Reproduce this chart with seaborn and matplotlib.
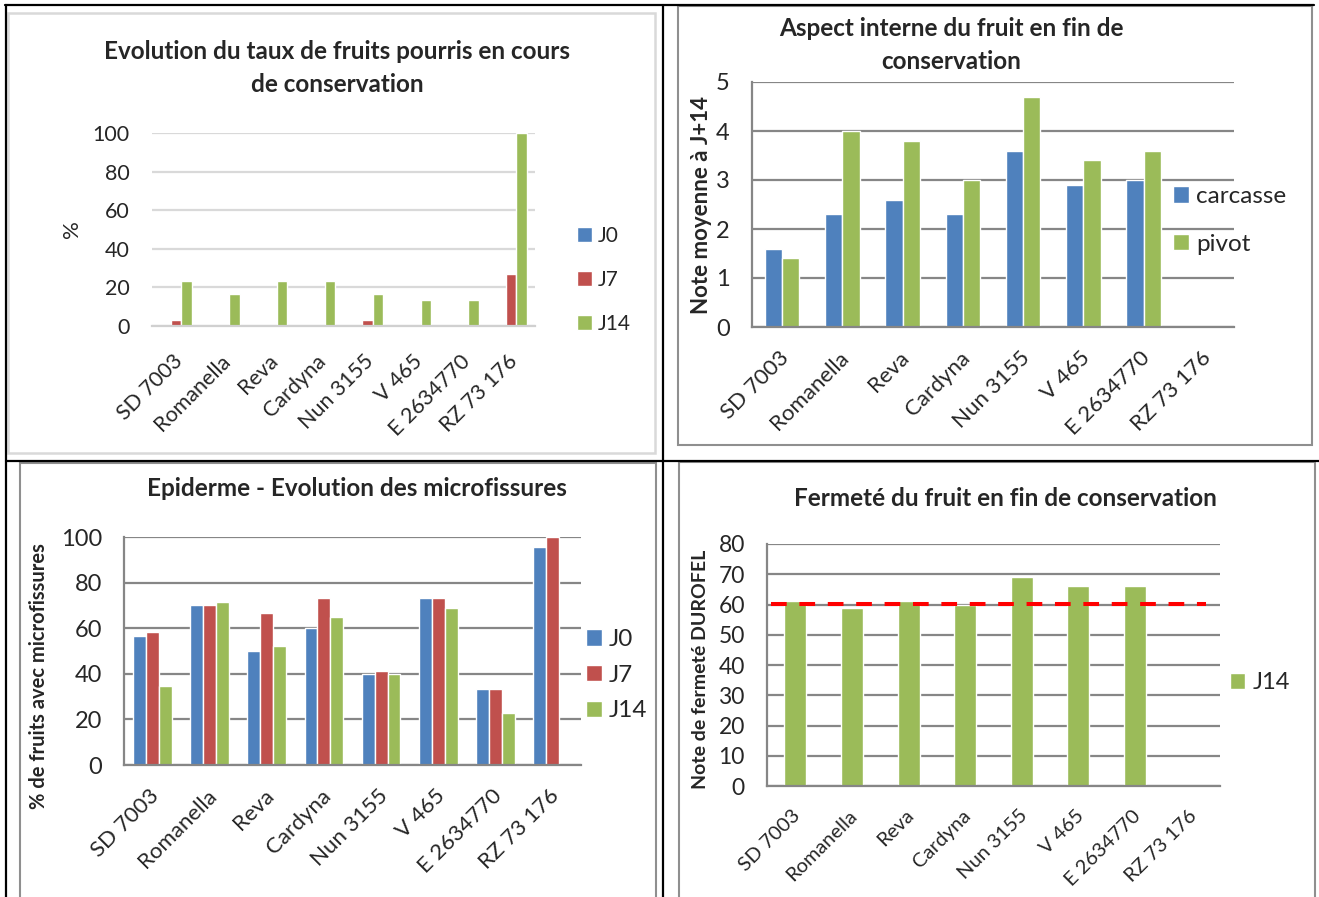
import numpy as np
import pandas as pd
import matplotlib
matplotlib.use("Agg")
import matplotlib.pyplot as plt
from matplotlib.patches import Rectangle
from matplotlib.lines import Line2D
from matplotlib.transforms import ScaledTranslation
import seaborn as sns

sns.set_style("white")
plt.rcParams["font.family"] = ["Lato", "DejaVu Sans"]

# ---------------- data ----------------
varietes = ["SD 7003", "Romanella", "Reva", "Cardyna", "Nun 3155", "V 465", "E 2634770", "RZ 73 176"]

pourris_J0 = [0, 0, 0, 0, 0, 0, 0, 0]
pourris_J7 = [3.3, 0, 0, 0, 3.3, 0, 0, 26.7]
pourris_J14 = [23.3, 16.7, 23.3, 23.3, 16.7, 13.3, 13.3, 100]

aspect_carcasse = [1.6, 2.3, 2.6, 2.3, 3.6, 2.9, 3.0, np.nan]
aspect_pivot = [1.4, 4.0, 3.8, 3.0, 4.7, 3.4, 3.6, np.nan]

micro_J0 = [56.7, 70, 50, 60, 40, 73.3, 33.3, 95.7]
micro_J7 = [58.3, 70, 66.7, 73.3, 41.4, 73.3, 33.3, 100]
micro_J14 = [34.8, 71.7, 52, 65, 40, 68.9, 22.7, np.nan]

fermete_J14 = [61, 59, 61, 60, 69, 66, 66, np.nan]
seuil_fermete = 60.3

titre_pourris = "Evolution du taux de fruits pourris en cours\nde conservation"
titre_aspect = "Aspect interne du fruit en fin de\nconservation"
titre_micro = "Epiderme - Evolution des microfissures"
titre_fermete = "Fermeté du fruit en fin de conservation"

BLUE, RED, GREEN = "#4F81BD", "#C0504D", "#9BBB59"


def longform(series):
    rows = []
    for name, vals in series.items():
        for v, val in zip(varietes, vals):
            rows.append({"variete": v, "serie": name, "valeur": val})
    return pd.DataFrame(rows).dropna()


W, H = 1319, 897
fig = plt.figure(figsize=(W / 100, H / 100), dpi=100)
fig.patch.set_facecolor("white")


def px_axes(l, t, r, b):
    return fig.add_axes([l / W, 1 - b / H, (r - l) / W, (b - t) / H])


def fx(x):
    return x / W


def fy(y):
    return 1 - y / H


def style_axes(ax, ymax, ystep, grid_col, tick_fs, xfs, spines=True, ypad=12, xpad=6, dx=0):
    ax.set_ylim(0, ymax)
    ax.set_yticks(np.arange(0, ymax + 0.001, ystep))
    ax.set_xlim(-0.5, len(varietes) - 0.5)
    ax.yaxis.grid(True, color=grid_col, lw=1.6)
    ax.xaxis.grid(False)
    ax.set_axisbelow(True)
    for s in ["top", "right"]:
        ax.spines[s].set_visible(False)
    ax.set_xlabel("")
    ax.set_facecolor("none")
    if spines:
        for s in ["left", "bottom"]:
            ax.spines[s].set_color("#868686")
            ax.spines[s].set_linewidth(1.6)
        ax.tick_params(axis="y", length=6, width=1.4, color="#868686", pad=ypad, labelsize=tick_fs)
        ax.set_xticks(np.arange(-0.5, len(varietes), 1.0), minor=True)
        ax.tick_params(axis="x", which="minor", length=6, width=1.4, color="#868686")
        ax.tick_params(axis="x", which="major", length=0, pad=xpad, labelsize=xfs)
    else:
        ax.spines["left"].set_visible(False)
        ax.spines["bottom"].set_color("#d0d0d0")
        ax.spines["bottom"].set_linewidth(1.6)
        ax.tick_params(axis="y", length=0, pad=ypad, labelsize=tick_fs)
        ax.tick_params(axis="x", which="major", length=0, pad=xpad, labelsize=xfs)
    ax.set_xticks(range(len(varietes)))
    ax.set_xticklabels(varietes, rotation=45, ha="right", rotation_mode="anchor")
    off = ScaledTranslation(dx / 72, 0, fig.dpi_scale_trans)
    for lab in ax.get_xticklabels():
        lab.set_transform(lab.get_transform() + off)


def place_legend(ax, x, y, fs, spacing, hsize):
    leg = ax.get_legend()
    handles = leg.legend_handles
    labels = [t.get_text() for t in leg.get_texts()]
    leg.remove()
    ax.legend(handles, labels, loc="upper left", bbox_to_anchor=(fx(x), fy(y)),
              bbox_transform=fig.transFigure, frameon=False, fontsize=fs,
              labelspacing=spacing, handlelength=hsize, handleheight=hsize,
              handletextpad=0.3, borderpad=0, borderaxespad=0)


# ---------------- frames and table lines ----------------
def frame(x0, y0, x1, y1, col, lw=1.5):
    fig.add_artist(Rectangle((fx(x0), fy(y1)), (x1 - x0) / W, (y1 - y0) / H,
                             transform=fig.transFigure, fill=False, ec=col, lw=lw))


frame(8, 13, 655, 453, "#d9d9d9", 1.8)
frame(678, 6, 1312, 445, "#8f8f8f", 1.5)
frame(20, 463, 656, 905, "#8f8f8f", 1.5)
frame(679, 462, 1315, 905, "#8f8f8f", 1.5)

for (x0, y0, x1, y1) in [(5, 5, 1314, 5), (6, 5, 6, 897), (663, 5, 663, 897), (6, 461, 1319, 461)]:
    fig.add_artist(Line2D([fx(x0), fx(x1)], [fy(y0), fy(y1)], transform=fig.transFigure,
                          color="black", lw=1.6))

# ---------------- chart 1: fruits pourris ----------------
ax1 = px_axes(152, 133, 535, 326)
df1 = longform({"J0": pourris_J0, "J7": pourris_J7, "J14": pourris_J14})
sns.barplot(data=df1, x="variete", y="valeur", hue="serie", order=varietes,
            hue_order=["J0", "J7", "J14"], palette=[BLUE, RED, GREEN], width=0.66,
            errorbar=None, saturation=1, ax=ax1)
style_axes(ax1, 100, 20, "#d9d9d9", 15.5, 15.5, spines=False, ypad=16, xpad=18, dx=-2.5)
ax1.set_ylabel("%", fontsize=16, labelpad=8)
place_legend(ax1, 577, 226, 15, 1.15, 0.7)
fig.text(fx(337), fy(68), titre_pourris, ha="center", va="center", fontsize=17.5,
         fontweight="bold", linespacing=1.5)

# ---------------- chart 2: aspect interne ----------------
ax2 = px_axes(752, 82, 1234, 327)
df2 = longform({"carcasse": aspect_carcasse, "pivot": aspect_pivot})
sns.barplot(data=df2, x="variete", y="valeur", hue="serie", order=varietes,
            hue_order=["carcasse", "pivot"], palette=[BLUE, GREEN], width=0.57,
            errorbar=None, saturation=1, ax=ax2)
style_axes(ax2, 5, 1, "#868686", 17, 16, spines=True, ypad=10, xpad=15, dx=-2.5)
ax2.set_ylabel("Note moyenne à J+14", fontsize=16, fontweight="bold", labelpad=3)
place_legend(ax2, 1173, 186, 17.5, 1.1, 0.65)
fig.text(fx(951), fy(45), titre_aspect, ha="center", va="center", fontsize=17.5,
         fontweight="bold", linespacing=1.5)

# ---------------- chart 3: microfissures ----------------
ax3 = px_axes(124, 537, 581, 765)
df3 = longform({"J0": micro_J0, "J7": micro_J7, "J14": micro_J14})
sns.barplot(data=df3, x="variete", y="valeur", hue="serie", order=varietes,
            hue_order=["J0", "J7", "J14"], palette=[BLUE, RED, GREEN], width=0.68,
            errorbar=None, saturation=1, ax=ax3)
style_axes(ax3, 100, 20, "#868686", 17, 16, spines=True, ypad=10, xpad=15, dx=-2.5)
ax3.set_ylabel("% de fruits avec microfissures", fontsize=14.5, fontweight="bold", labelpad=8)
ax3.yaxis.label.set_y(0.39)
place_legend(ax3, 586, 629, 17.5, 0.6, 0.65)
fig.text(fx(357), fy(488), titre_micro, ha="center", va="center", fontsize=17.5,
         fontweight="bold")

# ---------------- chart 4: fermeté ----------------
ax4 = px_axes(767, 544, 1220, 786)
df4 = longform({"J14": fermete_J14})
sns.barplot(data=df4, x="variete", y="valeur", hue="serie", order=varietes,
            hue_order=["J14"], palette=[GREEN], width=0.39,
            errorbar=None, saturation=1, ax=ax4)
style_axes(ax4, 80, 10, "#868686", 16.5, 14.5, spines=True, ypad=10, xpad=15, dx=-2.5)
ax4.set_ylabel("Note de fermeté DUROFEL", fontsize=14, fontweight="bold", labelpad=7)
ax4.yaxis.label.set_y(0.48)
ax4.axhline(seuil_fermete, xmin=0.008, xmax=0.97, color="#FF0000", lw=2.9,
            dashes=(3.9, 3.15), zorder=5)
place_legend(ax4, 1230, 672, 17, 1.0, 0.65)
fig.text(fx(1005), fy(498), titre_fermete, ha="center", va="center", fontsize=17.5,
         fontweight="bold")

fig.savefig("out.png", dpi=100)
